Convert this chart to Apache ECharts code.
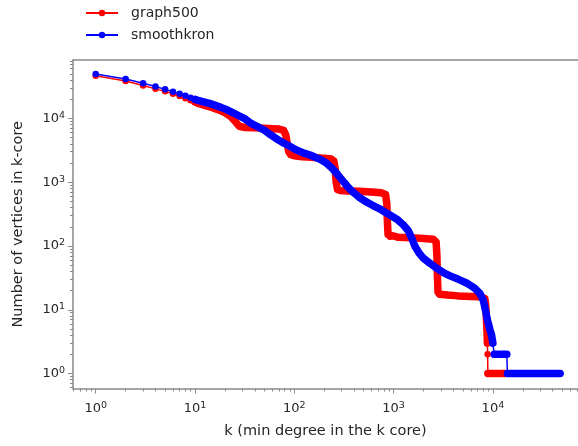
<!DOCTYPE html>
<html><head><meta charset="utf-8">
<script src="https://cdn.jsdelivr.net/npm/echarts@6/dist/echarts.min.js"></script>
<style>html,body{margin:0;padding:0;background:#fff}#c{width:578px;height:446px}</style>
</head><body><div id="c"></div>
<script>
// ---- data ----
const graph500K = [1,2,3,4,5,6,7,8,9,10,11,13,15,17,20,23,26,28,32,40,50,60,70,78,82,85,88,92,100,120,150,180,210,235,250,258,264,272,290,350,450,600,750,830,855,865,880,920,1100,1500,2000,2500,2680,2730,2760,2800,2900,3500,4500,6000,7500,8300,8450,8550,8650,8700,8750,8800,8850,8900,9500,10500,11800,13200];
const graph500V = [46500,38500,32800,29000,26500,24300,22400,20700,19200,18000,17000,15700,14700,13700,12300,10600,8600,7500,7200,7100,7000,6900,6800,6500,5500,4000,3000,2700,2600,2500,2450,2400,2350,2300,2150,1600,1000,770,740,730,720,700,680,640,450,250,150,140,137,134,131,127,115,70,35,19,17.5,17,16.5,16.2,16,15,12,9,6,5,4,3,2,1,1,1,1,1];
const smoothkronK = [1,2,3,4,5,6,7,8,9,10,11,12,14,16,18,21,24,28,32,36,42,50,57,66,76,90,105,125,150,180,210,240,270,300,340,390,450,520,620,750,900,1070,1250,1400,1530,1650,1800,2000,2300,2700,3200,3700,4500,5500,6500,7400,8000,8400,8800,9300,9700,10000,10300,11000,12000,13000,13800,14000,15500,17000,19000,21000,23000,25500,28000,31000,34000,37500,41000,45000,47500];
const smoothkronV = [49500,41500,35500,31500,28500,26200,24300,22600,21000,19800,18900,18200,17200,16000,15000,13600,12300,10900,9800,8500,7500,6500,5600,4800,4200,3650,3200,2850,2600,2300,2000,1650,1350,1100,870,700,580,500,430,370,310,265,215,175,130,97,78,64,54,45,38,34,30,26,22,18,14,10,7,5,4,3,2,2,2,2,2,1,1,1,1,1,1,1,1,1,1,1,1,1,1];
const seriesNames = ['graph500', 'smoothkron'];
const xTickExponents = [0, 1, 2, 3, 4];
const yTickExponents = [0, 1, 2, 3, 4];
const xTitle = 'k (min degree in the k core)';
const yTitle = 'Number of vertices in k-core';
// densely sampled k-ranges (markers merge into a continuous band there)
const graph500Dense = [[10, 8800], [8900, 13200]];
const smoothkronDense = [[10, 10000], [10300, 13800], [14000, 47500]];
// visible axis window (the figure is cropped just before the right spine)
const X_RANGE = [0.5905, 71950];
const Y_RANGE = [0.583, 82200];

// ---- styles ----
const RED = '#ff0000', BLUE = '#0000ff';
const SPINE = '#8a8a8a', TEXT = '#262626', FONT = 'DejaVu Sans';
const lg = Math.log10;

function pairs(K, V) { return K.map((k, i) => [k, V[i]]); }
function within(p, r) { return p.filter(d => d[0] >= r[0] && d[0] <= r[1]); }

function minorList(range) {
  const out = [];
  for (let e = -2; e <= 6; e++) for (let m = 2; m <= 9; m++) {
    const v = lg(m) + e;
    if (v > lg(range[0]) && v < lg(range[1])) out.push(v);
  }
  return out;
}

const rich = {
  b: { fontFamily: FONT, fontSize: 13, color: TEXT, lineHeight: 16 },
  s: { fontFamily: FONT, fontSize: 9.5, color: TEXT, lineHeight: 8, verticalAlign: 'top' }
};
const fmt = v => '{b|10}{s|' + Math.round(v) + '}';

function spineAxis(range, pos, show, extra) {
  return Object.assign({
    type: 'log', logBase: 10, min: range[0], max: range[1], position: pos,
    axisLine: { show: show, onZero: false, lineStyle: { color: SPINE, width: 1.5 } },
    axisTick: { show: false }, axisLabel: { show: false },
    splitLine: { show: false }, minorTick: { show: false }, minorSplitLine: { show: false }
  }, extra || {});
}
function tickAxis(range, pos, ticks, len, labels, margin) {
  return {
    type: 'value', min: lg(range[0]), max: lg(range[1]), position: pos,
    axisLine: { show: false, onZero: false },
    splitLine: { show: false },
    axisTick: { show: true, customValues: ticks, length: len, lineStyle: { color: SPINE, width: 1 } },
    axisLabel: labels ? { show: true, customValues: labels, formatter: fmt, rich: rich, margin: margin } : { show: false }
  };
}

const nameStyle = { fontFamily: FONT, fontSize: 14.5, color: TEXT };

function mainSeries(name, data, color, z) {
  return {
    name, type: 'line', data, xAxisIndex: 0, yAxisIndex: 0,
    symbol: 'circle', symbolSize: 6.5, showSymbol: true, showAllSymbol: true,
    lineStyle: { color, width: 1.5 }, itemStyle: { color },
    z, silent: true, animation: false, emphasis: { disabled: true }
  };
}
function bandSeries(name, data, color, z) {
  return {
    name: name + ' (dense)', type: 'line', data, xAxisIndex: 0, yAxisIndex: 0,
    symbol: 'none', lineStyle: { color, width: 7.5, cap: 'round', join: 'round' },
    z, silent: true, animation: false, emphasis: { disabled: true }
  };
}
function bands(name, data, ranges, color, z) {
  return ranges.map(r => bandSeries(name, within(data, r), color, z));
}

const g500 = pairs(graph500K, graph500V);
const skron = pairs(smoothkronK, smoothkronV);

const option = {
  animation: false,
  backgroundColor: '#ffffff',
  textStyle: { fontFamily: FONT },
  grid: { left: 73, top: 60, right: 0, bottom: 57.5, containLabel: false },
  legend: {
    data: seriesNames, orient: 'vertical', left: 85, top: 6, padding: 0,
    itemWidth: 32, itemHeight: 8, itemGap: 8,
    textStyle: { fontFamily: FONT, fontSize: 14, color: TEXT, padding: [0, 0, 0, 8] }
  },
  xAxis: [
    spineAxis(X_RANGE, 'bottom', true, { name: xTitle, nameLocation: 'middle', nameGap: 35, nameTextStyle: nameStyle }),
    spineAxis(X_RANGE, 'top', true),
    tickAxis(X_RANGE, 'bottom', xTickExponents, 5, xTickExponents, 12),
    tickAxis(X_RANGE, 'bottom', minorList(X_RANGE), 3, null)
  ],
  yAxis: [
    spineAxis(Y_RANGE, 'left', true, { name: yTitle, nameLocation: 'middle', nameGap: 47, nameTextStyle: nameStyle }),
    spineAxis(Y_RANGE, 'right', false),
    tickAxis(Y_RANGE, 'left', yTickExponents, 5, yTickExponents, 8),
    tickAxis(Y_RANGE, 'left', minorList(Y_RANGE), 3, null)
  ],
  series: [].concat(
    bands(seriesNames[0], g500, graph500Dense, RED, 2),
    [mainSeries(seriesNames[0], g500, RED, 3)],
    bands(seriesNames[1], skron, smoothkronDense, BLUE, 4),
    [mainSeries(seriesNames[1], skron, BLUE, 5)]
  )
};
const chart = echarts.init(document.getElementById('c'), null, { renderer: 'canvas' });
chart.setOption(option);
</script>
</body></html>
